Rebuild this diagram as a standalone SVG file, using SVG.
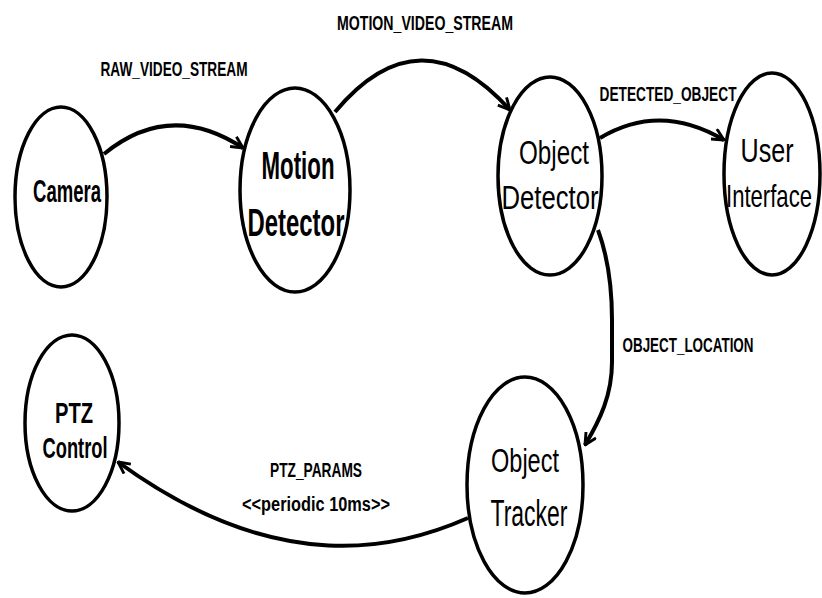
<svg xmlns="http://www.w3.org/2000/svg" width="822" height="598" viewBox="0 0 822 598">
  <style>
    .node ellipse { fill: #ffffff; stroke: #000000; stroke-width: 3.5; }
    .nl { font-family: "Liberation Sans", "DejaVu Sans", sans-serif; fill: #000000; text-anchor: middle; }
    .b { font-weight: bold; }
    .edge { fill: none; stroke: #000000; stroke-width: 4; }
    .el { font-family: "Liberation Sans", "DejaVu Sans", sans-serif; font-weight: bold; font-size: 20px; fill: #000000; text-anchor: middle; }
  </style>
  <defs>
    <marker id="arrow" viewBox="0 0 12 12" refX="11" refY="6" markerWidth="14" markerHeight="14" markerUnits="userSpaceOnUse" orient="auto">
      <path d="M1,1 L11,6 L1,11" fill="none" stroke="#000000" stroke-width="2.5"/>
    </marker>
  </defs>
  <rect width="822" height="598" fill="#ffffff"/>

  <!-- nodes -->
  <g id="camera" class="node">
    <ellipse cx="61" cy="197" rx="46" ry="90"/>
    <text class="nl b" x="67" y="202" font-size="32" textLength="68" lengthAdjust="spacingAndGlyphs">Camera</text>
  </g>
  <g id="motion-detector" class="node">
    <ellipse cx="295" cy="190" rx="55" ry="102"/>
    <text class="nl b" x="298" y="179" font-size="38" textLength="73" lengthAdjust="spacingAndGlyphs">Motion</text>
    <text class="nl b" x="296" y="236" font-size="38" textLength="97" lengthAdjust="spacingAndGlyphs">Detector</text>
  </g>
  <g id="object-detector" class="node">
    <ellipse cx="550" cy="176" rx="52" ry="99"/>
    <text class="nl" x="554" y="164" font-size="34" textLength="70" lengthAdjust="spacingAndGlyphs">Object</text>
    <text class="nl" x="550" y="209" font-size="34" textLength="97" lengthAdjust="spacingAndGlyphs">Detector</text>
  </g>
  <g id="user-interface" class="node">
    <ellipse cx="772" cy="174" rx="48" ry="101"/>
    <text class="nl" x="767" y="162" font-size="34" textLength="53" lengthAdjust="spacingAndGlyphs">User</text>
    <text class="nl" x="769" y="207" font-size="32" textLength="86" lengthAdjust="spacingAndGlyphs">Interface</text>
  </g>
  <g id="ptz-control" class="node">
    <ellipse cx="72" cy="423" rx="47" ry="88"/>
    <text class="nl b" x="74" y="423" font-size="30" textLength="38" lengthAdjust="spacingAndGlyphs">PTZ</text>
    <text class="nl b" x="75" y="458" font-size="30" textLength="65" lengthAdjust="spacingAndGlyphs">Control</text>
  </g>
  <g id="object-tracker" class="node">
    <ellipse cx="525" cy="485" rx="58" ry="108"/>
    <text class="nl" x="525" y="472" font-size="33" textLength="68" lengthAdjust="spacingAndGlyphs">Object</text>
    <text class="nl" x="529" y="526" font-size="36" textLength="77" lengthAdjust="spacingAndGlyphs">Tracker</text>
  </g>

  <!-- connectors -->
  <g id="connectors">
    <path class="edge" d="M104,154 Q170,100 243,148" marker-end="url(#arrow)"/>
    <text class="el" x="174" y="76" textLength="147" lengthAdjust="spacingAndGlyphs">RAW_VIDEO_STREAM</text>

    <path class="edge" d="M335,112 Q420,10 510,110" marker-end="url(#arrow)"/>
    <text class="el" x="425" y="30" textLength="176" lengthAdjust="spacingAndGlyphs">MOTION_VIDEO_STREAM</text>

    <path class="edge" d="M600,138 Q660,102 724,140" marker-end="url(#arrow)"/>
    <text class="el" x="668" y="101" textLength="137" lengthAdjust="spacingAndGlyphs">DETECTED_OBJECT</text>

    <path class="edge" d="M598,230 Q612,268 612,320 L612,362 C612,395 600,420 585,445" marker-end="url(#arrow)"/>
    <text class="el" x="688" y="352" textLength="131" lengthAdjust="spacingAndGlyphs">OBJECT_LOCATION</text>

    <path class="edge" d="M468,518 C400,548 280,580 118,462" marker-end="url(#arrow)"/>
    <text class="el" x="316" y="477" textLength="92" lengthAdjust="spacingAndGlyphs">PTZ_PARAMS</text>
    <text class="el" x="316" y="511" textLength="148" lengthAdjust="spacingAndGlyphs">&lt;&lt;periodic 10ms&gt;&gt;</text>
  </g>
</svg>
